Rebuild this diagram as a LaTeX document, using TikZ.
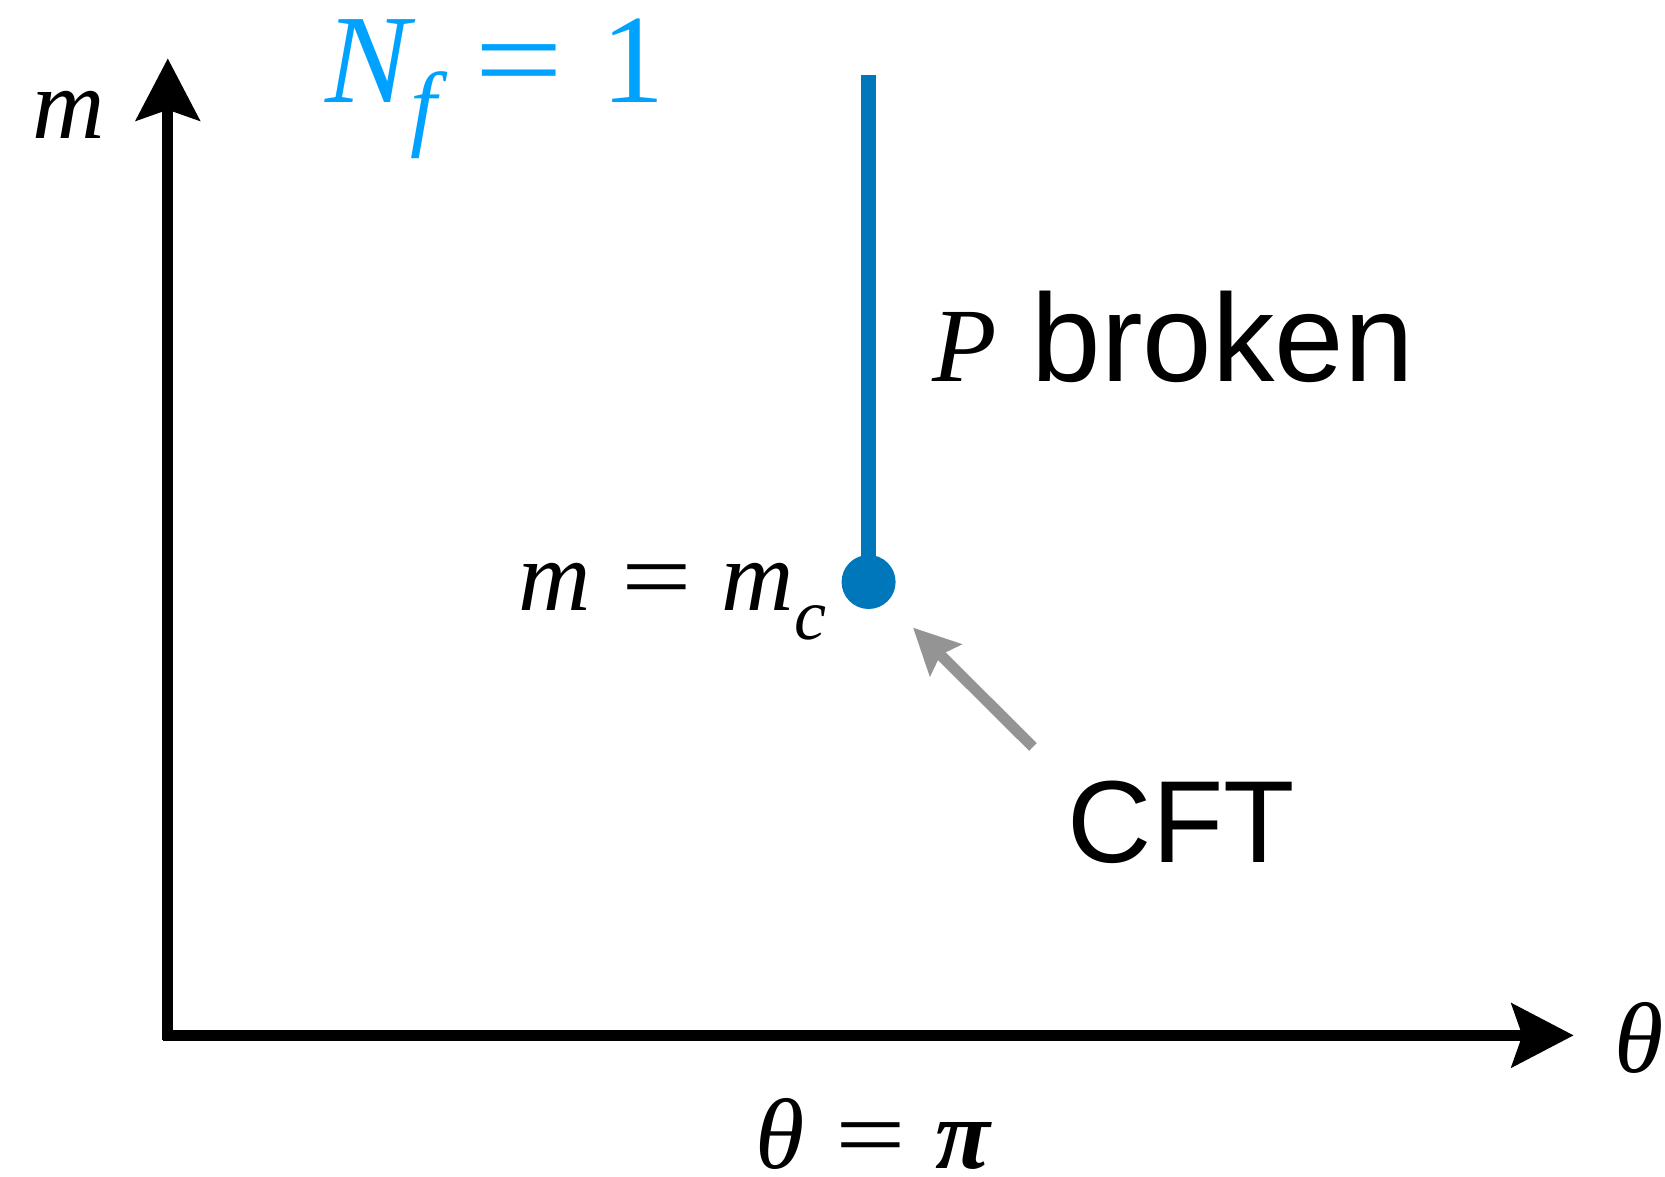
\documentclass[tikz,border=0pt]{standalone}
\usepackage{fontspec}
\usepackage{graphicx}
\newfontfamily\helv{Liberation Sans}
\newfontfamily\tms{Liberation Serif}
\usetikzlibrary{arrows.meta}
\definecolor{flav}{HTML}{00A2FF}
\definecolor{brk}{HTML}{0077BB}
\definecolor{cftg}{HTML}{949494}
\newcommand{\mi}[1]{{\tms\itshape #1}}
\newcommand{\eqs}{\hspace{0.3em}{\tms\scalebox{1.25}[1]{=}}\hspace{0.3em}}
\newcommand{\sub}[2][20]{\raisebox{-0.28em}{\fontsize{#1}{#1}\selectfont\mi{#2}}}
\tikzset{
  ax/.style  ={draw=black, line width=3.2pt, -{Stealth[length=17.6pt,width=18pt,inset=3pt]}},
  brl/.style ={draw=brk,   line width=4.4pt},
  crit/.style={circle, fill=brk, inner sep=0pt, minimum size=0.54cm},
  cfa/.style ={draw=cftg,  line width=3.1pt, -{Stealth[length=13pt,width=12.5pt,inset=2pt]}},
  mlbl/.style={font=\tms\fontsize{28.5}{32}\selectfont, anchor=base west, inner sep=0pt},
  slbl/.style={font=\helv\fontsize{34}{38}\selectfont, anchor=base west, inner sep=0pt},
}

\begin{document}
\begin{tikzpicture}[x=0.01cm,y=-0.01cm]
    \useasboundingbox (0,0) rectangle (1665,1177);
    % axes
    \coordinate (vbot)  at (167.8,1040);
    \coordinate (mtop)  at (167.8,58.4);
    \coordinate (hleft) at (163,1035.4);
    \coordinate (thend) at (1573.7,1035.4);
    \draw[ax] (vbot) -- (mtop);
    \draw[ax] (hleft) -- (thend);
    \node[mlbl] (mlab) at (32,139) {\mi{m}};
    \node[mlbl] (thlab) at (1614,1073) {\mi{θ}};
    \node[mlbl] (thpi) at (755,1169) {\smash{\mi{θ}\eqs{\bfseries\mi{π}}}};

    % broken line and critical point
    \node[crit] (mcdot) at (868.6,582) {};
    \coordinate (ptop) at (868.6,75.4);
    \draw[brl] (mcdot.center) -- (ptop);
    \node[mlbl] (mc) at (518,611) {\mi{m}\eqs\mi{m}\sub[20.5]{c}};
    \node[slbl,font=\helv\fontsize{35.5}{40}\selectfont] (pb) at (932,382)
      {{\tms\fontsize{30}{32}\selectfont\mi{P}} broken};
    \node[mlbl,font=\tms\fontsize{36}{40}\selectfont,color=flav] (nf) at (325,103)
      {\mi{N}\sub[27]{f}\eqs 1};

    % CFT pointer
    \node[slbl,font=\helv\fontsize{33.2}{38}\selectfont] (cft) at (1067,863) {CFT};
    \coordinate (cfttail) at (1033,747);
    \coordinate (cfttip)  at (913,627.6);
    \draw[cfa] (cfttail) -- (cfttip);
  \end{tikzpicture}
\end{document}
